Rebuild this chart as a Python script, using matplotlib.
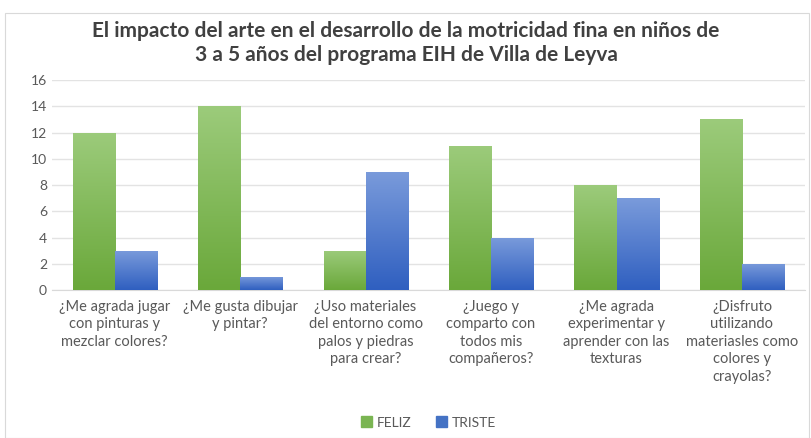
import matplotlib
matplotlib.use('Agg')
import matplotlib.pyplot as plt
import numpy as np
from matplotlib.colors import LinearSegmentedColormap
from matplotlib.patches import Rectangle, Patch

plt.rcParams['font.family'] = ['Lato', 'DejaVu Sans']

categorias = [
    '¿Me agrada jugar\ncon pinturas y\nmezclar colores?',
    '¿Me gusta dibujar\ny pintar?',
    '¿Uso materiales\ndel entorno como\npalos y piedras\npara crear?',
    '¿Juego y\ncomparto con\ntodos mis\ncompañeros?',
    '¿Me agrada\nexperimentar y\naprender con las\ntexturas',
    '¿Disfruto\nutilizando\nmateriasles como\ncolores y\ncrayolas?',
]
feliz = [12, 14, 3, 11, 8, 13]
triste = [3, 1, 9, 4, 7, 2]
titulo = ('El impacto del arte en el desarrollo de la motricidad fina en niños de\n'
          '3 a 5 años del programa EIH de Villa de Leyva')

verde = ('#6aa83a', '#9ccb7b')
azul = ('#2f5fc0', '#7a9bdb')

fig = plt.figure(figsize=(8.12, 4.38), dpi=100)
fig.patches.append(Rectangle((0.006, 0.0), 0.99, 0.97, transform=fig.transFigure,
                             fill=False, edgecolor='#d9d9d9', linewidth=0.8))
ax = fig.add_axes([0.064, 0.338, 0.927, 0.479])

x = np.arange(len(categorias))
w = 0.335


def barras_degradado(pos, vals, colores):
    cmap = LinearSegmentedColormap.from_list('g', list(colores))
    grad = np.linspace(0, 1, 256).reshape(-1, 1)
    bars = ax.bar(pos, vals, width=w, color=colores[0], edgecolor='none', zorder=2)
    for b in bars:
        x0, y0 = b.get_x(), b.get_y()
        im = ax.imshow(grad, extent=[x0, x0 + b.get_width(), y0, y0 + b.get_height()],
                       origin='lower', aspect='auto', cmap=cmap, zorder=3)
        im.set_clip_path(b)
    return bars


barras_degradado(x - w / 2, feliz, verde)
barras_degradado(x + w / 2, triste, azul)

ax.set_xlim(-0.5, len(categorias) - 0.5)
ax.set_ylim(0, 16)
ax.set_yticks(range(0, 17, 2))
ax.yaxis.grid(True, color='#e3e3e3', linewidth=1)
ax.set_axisbelow(True)
for s in ['top', 'right', 'left']:
    ax.spines[s].set_visible(False)
ax.spines['bottom'].set_color('#d9d9d9')
ax.tick_params(axis='both', length=0, colors='#595959', labelsize=10)
ax.set_xticks(x)
ax.set_xticklabels(categorias, linespacing=1.32, fontsize=10.5)
ax.tick_params(axis='x', pad=7)

fig.text(0.5, 0.952, titulo, ha='center', va='top', fontsize=15, fontweight='bold',
         color='#404040', linespacing=1.22)

ax.legend(handles=[Patch(color='#7ab552', label='FELIZ'), Patch(color='#4472c4', label='TRISTE')],
          loc='lower center', bbox_to_anchor=(0.5, -0.72), ncol=2, frameon=False,
          fontsize=10, labelcolor='#595959', handlelength=0.8, handleheight=0.8,
          handletextpad=0.3, columnspacing=1.8)

fig.savefig('out.png', dpi=100)
